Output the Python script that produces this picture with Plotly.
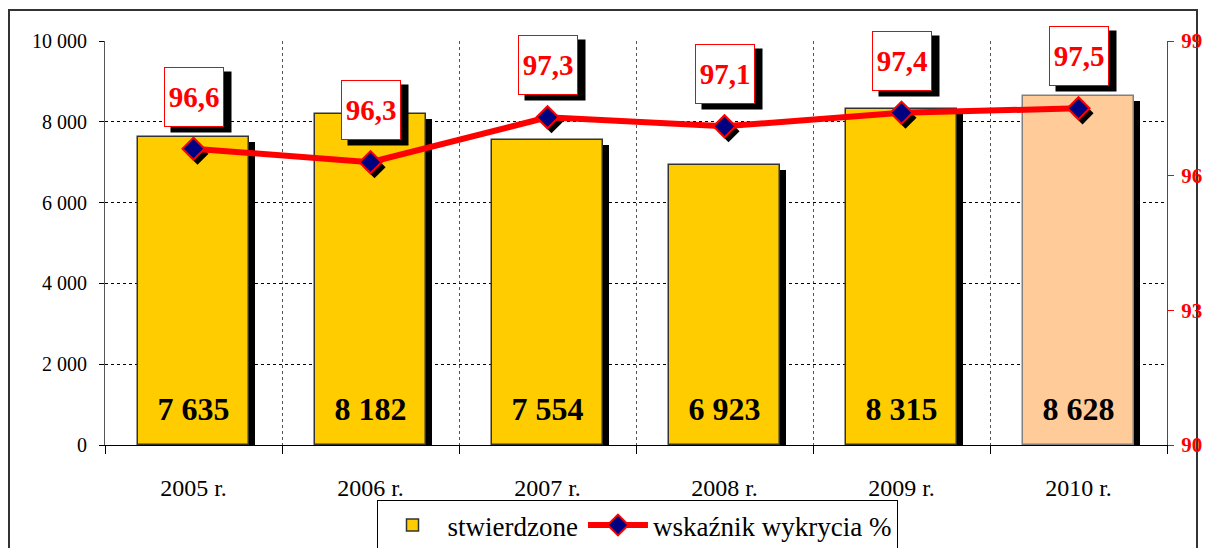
import plotly.graph_objects as go

years = ["2005 r.", "2006 r.", "2007 r.", "2008 r.", "2009 r.", "2010 r."]
stwierdzone = [7635, 8182, 7554, 6923, 8315, 8628]
wskaznik = [96.6, 96.3, 97.3, 97.1, 97.4, 97.5]
y_ticks = [0, 2000, 4000, 6000, 8000, 10000]
y_ticklabels = ["0", "2 000", "4 000", "6 000", "8 000", "10 000"]
y2_ticks = [90, 93, 96, 99]

FONT = "Liberation Serif"
xs = list(range(len(years)))
bar_colors = ["#FFCC00"] * 5 + ["#FFCC99"]
bar_lines = ["#333333"] * 5 + ["#808080"]
BW = 0.63
sx = 6 / 177.0          # shadow x offset in category units
sy_bar = 5 / 404.0 * 10000
sy_pct = 5 / 404.0 * 9

def fmt_int(v):
    return f"{v:,}".replace(",", " ")

def fmt_pct(v):
    return f"{v:.1f}".replace(".", ",")

fig = go.Figure()

# bar shadows
fig.add_trace(go.Bar(
    x=xs, y=[v - sy_bar for v in stwierdzone], width=BW, offset=-BW / 2 + sx,
    marker=dict(color="black", line=dict(width=0)), showlegend=False, hoverinfo="skip"))
# bars
fig.add_trace(go.Bar(
    x=xs, y=stwierdzone, width=BW, offset=-BW / 2, name="stwierdzone",
    marker=dict(color=bar_colors, line=dict(color=bar_lines, width=1.5))))
# value labels inside bars
fig.add_trace(go.Scatter(
    x=xs, y=[820] * len(xs), mode="text", text=[fmt_int(v) for v in stwierdzone],
    textfont=dict(family=FONT, size=32, color="black", weight="bold"),
    showlegend=False, hoverinfo="skip"))
# marker shadows
fig.add_trace(go.Scatter(
    x=[x + 4 / 177.0 for x in xs], y=[v - sy_pct for v in wskaznik], yaxis="y2",
    mode="markers", marker=dict(symbol="diamond", size=17, color="black"),
    showlegend=False, hoverinfo="skip"))
# line
fig.add_trace(go.Scatter(
    x=xs, y=wskaznik, yaxis="y2", mode="lines+markers", name="wskaźnik wykrycia %",
    line=dict(color="#FF0000", width=6),
    marker=dict(symbol="diamond", size=17, color="#000080", line=dict(color="#FF0000", width=2))))

annotations = []
for x, v in zip(xs, wskaznik):
    annotations.append(dict(
        x=x, y=v, xref="x", yref="y2", text="\u00a0", showarrow=False,
        xshift=7, yshift=52 - 5, width=58, height=58, bgcolor="black",
        font=dict(family=FONT, size=29, color="black")))
    annotations.append(dict(
        x=x, y=v, xref="x", yref="y2", text=fmt_pct(v), showarrow=False,
        yshift=52, width=58, height=58, bgcolor="white", bordercolor="#FF0000",
        borderwidth=1, borderpad=0,
        font=dict(family=FONT, size=29, color="#FF0000", weight="bold")))

fig.update_layout(
    width=1206, height=548,
    margin=dict(l=105, r=39, t=41, b=103, autoexpand=False),
    paper_bgcolor="white", plot_bgcolor="white",
    barmode="overlay", bargap=0,
    font=dict(family=FONT, color="black"),
    annotations=annotations,
    xaxis=dict(
        range=[-0.5, 5.5], tickvals=xs, ticktext=years, ticks="", showgrid=False,
        showline=True, linecolor="black", linewidth=1, zeroline=False,
        tickfont=dict(family=FONT, size=24, color="black"), ticklabelstandoff=21,
        minor=dict(tick0=0.5, dtick=1, showgrid=True, gridcolor="#555555",
                   griddash="dot", gridwidth=1, ticks="outside", ticklen=8,
                   tickcolor="black")),
    yaxis=dict(
        range=[0, 10000], tickvals=y_ticks, ticktext=y_ticklabels,
        showgrid=True, gridcolor="black", griddash="dot", gridwidth=1,
        showline=True, linecolor="#555555", linewidth=1, zeroline=False,
        ticks="outside", ticklen=5, tickcolor="black", ticklabelstandoff=8,
        tickfont=dict(family=FONT, size=20, color="black")),
    yaxis2=dict(
        range=[90, 99], tickvals=y2_ticks, overlaying="y", side="right",
        showgrid=False, showline=True, linecolor="#FF0000", linewidth=1,
        ticks="outside", ticklen=6, tickcolor="#FF0000", zeroline=False,
        ticklabelstandoff=3,
        tickfont=dict(family=FONT, size=21, color="#FF0000", weight="bold")),
    legend=dict(
        orientation="h", x=(637 - 105) / 1062, y=(445 - 500) / 404,
        xanchor="center", yanchor="top",
        bordercolor="black", borderwidth=1, bgcolor="white", itemwidth=60,
        font=dict(family=FONT, size=27, color="black"), traceorder="normal"),
    shapes=[dict(type="rect", xref="paper", yref="paper",
                 x0=(9 - 105) / 1062, x1=(1197 - 105) / 1062,
                 y0=(445 - 600) / 404, y1=(445 - 10) / 404,
                 line=dict(color="#333333", width=2), layer="below")],
)

fig.write_html("out.html", config={"displayModeBar": False},
               post_script="document.body.style.margin='0';document.body.style.overflow='hidden';")
